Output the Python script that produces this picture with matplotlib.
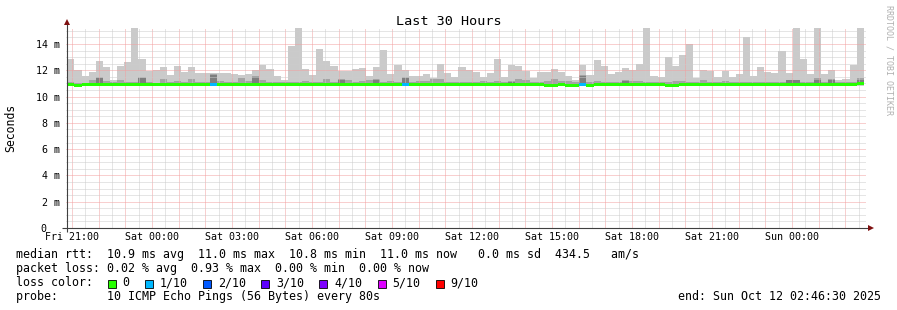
import matplotlib
matplotlib.use("Agg")
import matplotlib.pyplot as plt
import matplotlib.dates as mdates
from matplotlib.ticker import MultipleLocator, FixedLocator, FixedFormatter, FuncFormatter
from matplotlib.patches import Rectangle
from matplotlib.transforms import ScaledTranslation
from datetime import datetime, timedelta
import numpy as np

# ---------------- data ----------------
end_time = datetime(2025, 10, 12, 2, 46, 30)
span_hours = 30
step_seconds = 960
first_bar_offset_s = 180

# ping 10 (max) per 16-minute step, ms
ping_max = [12.86, 12.0, 11.6, 11.9, 12.7, 12.28, 11.3, 12.35, 12.63, 15.3,
            12.86, 11.97, 12.0, 12.28, 11.64, 12.33, 11.9, 12.28, 11.82, 11.82,
            11.82, 11.82, 11.82, 11.72, 11.64, 11.72, 12.0, 12.4, 12.08, 11.57,
            11.3, 13.85, 15.3, 12.08, 11.64, 13.62, 12.7, 12.35, 11.97, 11.97,
            12.1, 12.15, 11.57, 12.28, 13.55, 11.72, 12.4, 12.0, 11.6, 11.6,
            11.72, 11.44, 12.48, 11.82, 11.5, 12.28, 12.0, 11.9, 11.5, 11.82,
            12.86, 11.5, 12.4, 12.33, 11.97, 11.44, 11.9, 11.9, 12.1, 11.9,
            11.57, 11.26, 12.4, 11.64, 12.8, 12.33, 11.72, 11.9, 12.15, 12.0,
            12.48, 15.3, 11.57, 11.5, 13.04, 12.33, 13.17, 14.0, 11.44, 12.0,
            11.97, 11.5, 11.97, 11.5, 11.72, 14.5, 11.57, 12.28, 11.9, 11.82,
            13.5, 11.82, 15.3, 12.86, 11.72, 15.3, 11.72, 12.0, 11.26, 11.37,
            12.4, 15.3]

# ping 9 (second highest), ms
ping_hi2 = [11.08, 11.01, 11.06, 11.26, 11.52, 11.19, 11.14, 11.26, 11.08, 11.14,
            11.52, 11.08, 11.06, 11.34, 11.14, 11.19, 11.14, 11.34, 11.14, 11.14,
            11.72, 11.21, 11.14, 11.14, 11.39, 11.19, 11.57, 11.26, 11.14, 11.11,
            11.14, 11.14, 11.08, 11.19, 11.14, 11.14, 11.34, 11.08, 11.31, 11.26,
            11.14, 11.21, 11.26, 11.31, 11.14, 11.19, 11.14, 11.47, 11.14, 11.19,
            11.19, 11.31, 11.31, 11.11, 11.14, 11.14, 11.14, 11.14, 11.21, 11.14,
            11.21, 11.14, 11.21, 11.31, 11.26, 11.14, 11.14, 11.19, 11.36, 11.19,
            11.19, 11.14, 11.64, 11.14, 11.21, 11.14, 11.14, 11.14, 11.26, 11.19,
            11.19, 11.14, 11.11, 11.11, 11.14, 11.21, 11.19, 11.14, 11.11, 11.26,
            11.14, 11.14, 11.21, 11.11, 11.14, 11.14, 11.14, 11.14, 11.14, 11.14,
            11.14, 11.3, 11.3, 11.14, 11.14, 11.39, 11.14, 11.33, 11.14, 11.14,
            11.14, 11.4]

# ping 8 (third highest), ms
ping_hi3 = [11.0, 11.0, 11.0, 11.0, 11.45, 11.0, 11.0, 11.0, 11.0, 11.0,
            11.45, 11.0, 11.0, 11.0, 11.0, 11.0, 11.0, 11.0, 11.0, 11.0,
            11.65, 11.0, 11.0, 11.0, 11.0, 11.0, 11.5, 11.0, 11.0, 11.0,
            11.0, 11.0, 11.0, 11.0, 11.0, 11.0, 11.0, 11.0, 11.25, 11.0,
            11.0, 11.0, 11.0, 11.25, 11.0, 11.0, 11.0, 11.4, 11.0, 11.0,
            11.0, 11.0, 11.0, 11.0, 11.0, 11.0, 11.0, 11.0, 11.0, 11.0,
            11.0, 11.0, 11.15, 11.0, 11.0, 11.0, 11.0, 11.0, 11.0, 11.0,
            11.0, 11.0, 11.58, 11.0, 11.0, 11.0, 11.0, 11.0, 11.2, 11.0,
            11.0, 11.0, 11.0, 11.0, 11.0, 11.0, 11.0, 11.0, 11.0, 11.0,
            11.0, 11.0, 11.0, 11.0, 11.0, 11.0, 11.0, 11.0, 11.0, 11.0,
            11.0, 11.25, 11.25, 11.0, 11.0, 11.3, 11.0, 11.25, 11.0, 11.0,
            11.0, 11.3]

# ping 1 (min), ms
ping_min = [10.78, 10.72, 10.78, 10.78, 10.78, 10.78, 10.78, 10.78, 10.78, 10.78,
            10.78, 10.78, 10.78, 10.78, 10.78, 10.78, 10.78, 10.78, 10.78, 10.78,
            10.78, 10.78, 10.78, 10.78, 10.78, 10.78, 10.78, 10.78, 10.78, 10.78,
            10.78, 10.78, 10.78, 10.78, 10.78, 10.78, 10.78, 10.78, 10.78, 10.78,
            10.78, 10.78, 10.78, 10.78, 10.78, 10.78, 10.78, 10.78, 10.78, 10.78,
            10.78, 10.78, 10.78, 10.78, 10.78, 10.78, 10.78, 10.78, 10.78, 10.78,
            10.78, 10.78, 10.78, 10.78, 10.78, 10.78, 10.78, 10.72, 10.72, 10.78,
            10.72, 10.72, 10.78, 10.72, 10.78, 10.78, 10.78, 10.78, 10.78, 10.78,
            10.78, 10.78, 10.78, 10.78, 10.72, 10.72, 10.78, 10.78, 10.78, 10.78,
            10.78, 10.78, 10.78, 10.78, 10.78, 10.78, 10.78, 10.78, 10.78, 10.78,
            10.78, 10.78, 10.78, 10.78, 10.78, 10.78, 10.78, 10.78, 10.78, 10.78,
            10.78, 10.78]

# median rtt, ms
median_rtt = [10.93, 10.85, 10.93, 10.93, 10.93, 10.93, 10.93, 10.93, 10.93, 10.93,
              10.93, 10.93, 10.93, 10.93, 10.93, 10.93, 10.93, 10.93, 10.93, 10.93,
              10.93, 10.93, 10.93, 10.93, 10.93, 10.93, 10.93, 10.93, 10.93, 10.93,
              10.93, 10.93, 10.93, 10.93, 10.93, 10.93, 10.93, 10.93, 10.93, 10.93,
              10.93, 10.93, 10.93, 10.93, 10.93, 10.93, 10.93, 10.93, 10.93, 10.93,
              10.93, 10.93, 10.93, 10.93, 10.93, 10.93, 10.93, 10.93, 10.93, 10.93,
              10.93, 10.93, 10.93, 10.93, 10.93, 10.93, 10.93, 10.86, 10.86, 10.93,
              10.86, 10.86, 10.93, 10.86, 10.93, 10.93, 10.93, 10.93, 10.93, 10.93,
              10.93, 10.93, 10.93, 10.93, 10.86, 10.86, 10.93, 10.93, 10.93, 10.93,
              10.93, 10.93, 10.93, 10.93, 10.93, 10.93, 10.93, 10.93, 10.93, 10.93,
              10.93, 10.93, 10.93, 10.93, 10.93, 10.93, 10.93, 10.93, 10.93, 10.93,
              10.93, 10.98]

# lost pings (out of 10) per step
lost_pings = [0, 0, 0, 0, 0, 0, 0, 0, 0, 0,
              0, 0, 0, 0, 0, 0, 0, 0, 0, 0,
              1, 0, 0, 0, 0, 0, 0, 0, 0, 0,
              0, 0, 0, 0, 0, 0, 0, 0, 0, 0,
              0, 0, 0, 0, 0, 0, 0, 1, 0, 0,
              0, 0, 0, 0, 0, 0, 0, 0, 0, 0,
              0, 0, 0, 0, 0, 0, 0, 0, 0, 0,
              0, 0, 1, 0, 0, 0, 0, 0, 0, 0,
              0, 0, 0, 0, 0, 0, 0, 0, 0, 0,
              0, 0, 0, 0, 0, 0, 0, 0, 0, 0,
              0, 0, 0, 0, 0, 0, 0, 0, 0, 0,
              0, 0]

loss_labels = ["0", "1/10", "2/10", "3/10", "4/10", "5/10", "9/10"]
loss_colors = ["#26ff00", "#00b8ff", "#0059ff", "#5e00ff", "#7e00ff", "#dd00ff", "#ff0000"]
loss_levels = [0, 1, 2, 3, 4, 5, 9]

y_tick_values = [0, 2, 4, 6, 8, 10, 12, 14]
y_tick_labels = ["0", "2 m", "4 m", "6 m", "8 m", "10 m", "12 m", "14 m"]

title = "Last 30 Hours"
y_label = "Seconds"
legend_rows = [
    "median rtt:  10.9 ms avg  11.0 ms max  10.8 ms min  11.0 ms now   0.0 ms sd  434.5   am/s",
    "packet loss: 0.02 % avg  0.93 % max  0.00 % min  0.00 % now",
]
loss_row_label = "loss color:"
probe_row = "probe:       10 ICMP Echo Pings (56 Bytes) every 80s"
end_text = "end: Sun Oct 12 02:46:30 2025"
watermark = "RRDTOOL / TOBI OETIKER"

# ---------------- figure ----------------
W, H = 897, 310
FONT = "DejaVu Sans Mono"
plt.rcParams["font.family"] = FONT

fig = plt.figure(figsize=(W / 100, H / 100), dpi=100)
fig.patch.set_facecolor("white")

PL, PR, PT, PB = 66, 866, 27.5, 228
ax = fig.add_axes([PL / W, 1 - PB / H, (PR - PL) / W, (PB - PT) / H])
ax.set_facecolor("white")
for s in ax.spines.values():
    s.set_visible(False)

start_time = end_time - timedelta(hours=span_hours)
n = len(ping_max)
bar_times = [start_time + timedelta(seconds=first_bar_offset_s + i * step_seconds) for i in range(n)]
x = mdates.date2num(bar_times)
width = step_seconds / 86400.0

pmax = np.array(ping_max)
phi2 = np.array(ping_hi2)
phi3 = np.array(ping_hi3)
pmin = np.array(ping_min)
med = np.array(median_rtt)

ax.bar(x, pmax - pmin, bottom=pmin, width=width, align="edge", color="#cacaca", linewidth=0, zorder=1)
ax.bar(x, phi2 - med, bottom=med, width=width, align="edge", color="#a4a4a4", linewidth=0, zorder=1.1)
ax.bar(x, phi3 - med, bottom=med, width=width, align="edge", color="#7e7e7e", linewidth=0, zorder=1.2)

band = 0.11
med_colors = [loss_colors[loss_levels.index(l)] for l in lost_pings]
ax.bar(x, 2 * band, bottom=med - band, width=width, align="edge", color=med_colors, linewidth=0, zorder=3)

ax.set_xlim(mdates.date2num(start_time), mdates.date2num(end_time))
ax.set_ylim(0, 15.26)

# grid
ax.xaxis.set_major_locator(mdates.HourLocator(byhour=range(24)))
ax.xaxis.set_minor_locator(mdates.MinuteLocator(byminute=[30]))


def xfmt(v, pos):
    d = mdates.num2date(v)
    return d.strftime("%a %H:%M") if d.hour % 3 == 0 else ""


ax.xaxis.set_major_formatter(FuncFormatter(xfmt))
ax.yaxis.set_major_locator(FixedLocator(y_tick_values))
ax.yaxis.set_major_formatter(FixedFormatter(y_tick_labels))
ax.yaxis.set_minor_locator(MultipleLocator(0.5))

ax.set_axisbelow(False)
dot = (0, (1, 1))
ax.grid(which="major", color="#f3a0a0", linestyle=dot, linewidth=0.72)
ax.grid(which="minor", color="#cccccc", linestyle=dot, linewidth=0.72)

ax.tick_params(axis="both", which="both", length=0)
ax.tick_params(axis="y", which="major", pad=4.3, labelsize=7.2)
ax.tick_params(axis="x", which="major", pad=3.0, labelsize=7.2)

# axes lines + arrows
axis_col = "#404040"
arrow_col = "#7f1010"
pw, ph = PR - PL, PB - PT
ax.plot([-4 / pw, 1 + 4 / pw], [0, 0], transform=ax.transAxes, color=axis_col, lw=0.8,
        clip_on=False, zorder=4, solid_capstyle="butt")
ax.plot([0.5 / pw, 0.5 / pw], [-4 / ph, 1 + 4 / ph], transform=ax.transAxes, color=axis_col, lw=0.8,
        clip_on=False, zorder=4, solid_capstyle="butt")
ax.plot([1 + 5 / pw], [0], marker=">", color=arrow_col, markersize=4.3, transform=ax.transAxes,
        clip_on=False, zorder=5, markeredgewidth=0)
ax.plot([0.5 / pw], [1 + 5.5 / ph], marker="^", color=arrow_col, markersize=4.3, transform=ax.transAxes,
        clip_on=False, zorder=5, markeredgewidth=0)

# texts
def fx(px):
    return px / W


def fy(py):
    return 1 - py / H


fig.text(0.5, fy(25), title, ha="center", va="baseline", fontsize=9.7, color="black")
fig.text(fx(10.5), fy(127.5), y_label, rotation=90, ha="center", va="center", fontsize=8.3)
fig.text(fx(888.5), fy(5), watermark, rotation=270, ha="center", va="top", fontsize=6.0, color="#b0b0b0")

LEG = 8.35
fig.text(fx(16), fy(258), legend_rows[0], ha="left", va="baseline", fontsize=LEG)
fig.text(fx(16), fy(272), legend_rows[1], ha="left", va="baseline", fontsize=LEG)
fig.text(fx(16), fy(286), loss_row_label, ha="left", va="baseline", fontsize=LEG)

cw = 7.03
sq_x = 108.0
for lab, col in zip(loss_labels, loss_colors):
    fig.patches.append(Rectangle((fx(sq_x), fy(287.5)), 8 / W, 8 / H, transform=fig.transFigure,
                                 facecolor=col, edgecolor="black", linewidth=0.6))
    tx = sq_x + 14.7
    fig.text(fx(tx), fy(286), lab, ha="left", va="baseline", fontsize=LEG)
    sq_x = tx + len(lab) * cw + 15.3

fig.text(fx(16), fy(300), probe_row, ha="left", va="baseline", fontsize=LEG)
fig.text(fx(881), fy(300), end_text, ha="right", va="baseline", fontsize=LEG)

# shift the "0" label left so its digit lines up with the other digits (rrdtool style)
fig.canvas.draw()
zero_tick = ax.yaxis.get_major_ticks()[0]
zero_tick.label1.set_transform(zero_tick.label1.get_transform()
                               + ScaledTranslation(-2 * cw / 100, 0, fig.dpi_scale_trans))

fig.savefig("out.png", dpi=100, facecolor="white")
